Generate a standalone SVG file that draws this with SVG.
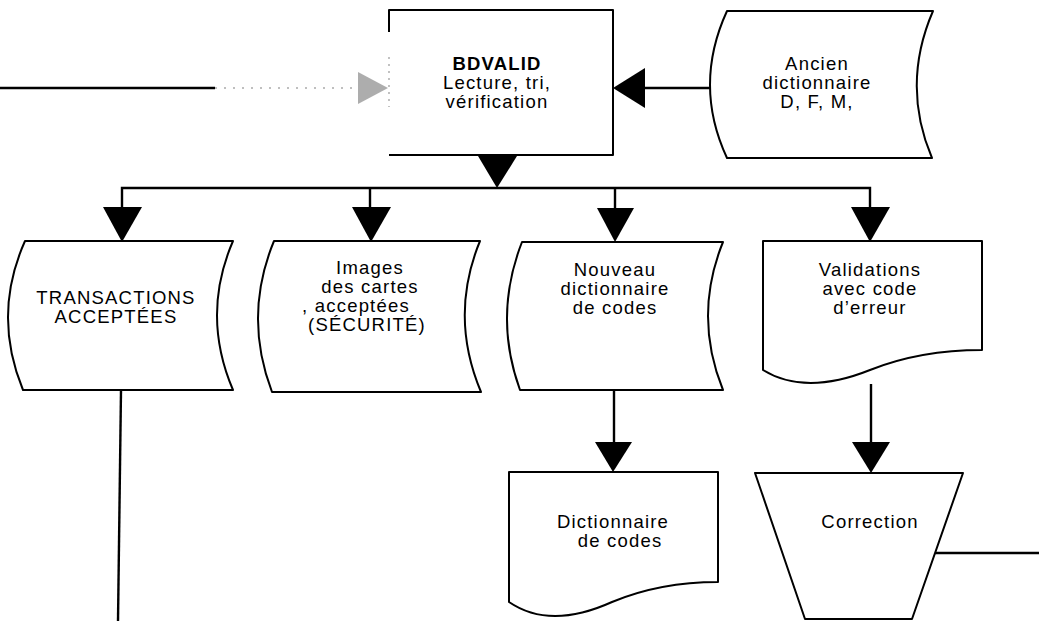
<svg xmlns="http://www.w3.org/2000/svg" width="1039" height="621" viewBox="0 0 1039 621">
<style>
.s{fill:#fff;stroke:#000;stroke-width:2;stroke-linejoin:round}
.c{fill:none;stroke:#000;stroke-width:2.4}
.h{fill:#000;stroke:none}
.t{font-family:"Liberation Sans",Arial,sans-serif;font-size:18.5px;letter-spacing:1.2px;fill:#000;text-anchor:middle}
.b{font-weight:bold}
</style>
<rect width="1039" height="621" fill="#fff"/>
<g id="connectors">
<line class="c" x1="0" y1="88" x2="215" y2="88"/>
<line x1="215" y1="88" x2="352" y2="88" stroke="#aaa" stroke-width="1.5" stroke-dasharray="2 7"/>
<polygon points="358,72 358,104 388,88" fill="#999" opacity="0.8"/>
<line class="c" x1="710" y1="88" x2="643" y2="88" stroke-width="3"/>
<polygon class="h" points="645,68 645,108 613,88"/>
<polygon class="h" points="478,156 517,156 497,188"/>
<polyline class="c" points="122,208 122,188 870,188 870,208"/>
<line class="c" x1="370" y1="188" x2="370" y2="208"/>
<line class="c" x1="615" y1="188" x2="615" y2="210"/>
<polygon class="h" points="103,207 142,207 122,242"/>
<polygon class="h" points="352,207 391,207 371,242"/>
<polygon class="h" points="597,208 634,208 615,242"/>
<polygon class="h" points="851,207 890,207 870,242"/>
<line class="c" x1="121" y1="390" x2="118" y2="621"/>
<line class="c" x1="614" y1="390" x2="614" y2="444"/>
<polygon class="h" points="595,442 632,442 613,472"/>
<line class="c" x1="871" y1="384" x2="871" y2="444"/>
<polygon class="h" points="852,442 890,442 871,473"/>
<line class="c" x1="935" y1="553" x2="1039" y2="553"/>
</g>
<g id="bdvalid">
<path class="s" d="M389,155 L613,155 L613,10 L389,10 L389,32" fill="#fff"/>
<line x1="389" y1="57" x2="389" y2="107" stroke="#999" stroke-width="1.2" stroke-dasharray="2 5"/>
<text class="t b" x="497" y="70">BDVALID</text>
<text class="t" x="497" y="89">Lecture, tri,</text>
<text class="t" x="497" y="108">vérification</text>
</g>
<g id="ancien">
<path class="s" d="M727,11 L933,11 Q901,85 932,158 L727,158 Q693,85 727,11 Z"/>
<text class="t" x="817" y="70">Ancien</text>
<text class="t" x="817" y="89">dictionnaire</text>
<text class="t" x="817" y="108">D, F, M,</text>
</g>
<g id="transactions">
<path class="s" d="M25,241 L233,241 Q201,315 233,390 L23,390 Q-8,315 25,241 Z"/>
<text class="t" x="116" y="304">TRANSACTIONS</text>
<text class="t" x="116" y="323">ACCEPTÉES</text>
</g>
<g id="images">
<path class="s" d="M274,241 L480,241 Q449,316 481,392 L272,392 Q243,316 274,241 Z"/>
<text class="t" x="370" y="274">Images</text>
<text class="t" x="370" y="293">des cartes</text>
<text class="t" x="356" y="312">, acceptées</text>
<text class="t" x="367" y="331">(SÉCURITÉ)</text>
</g>
<g id="nouveau">
<path class="s" d="M522,242 L723,242 Q693,316 723,390 L520,390 Q493,316 522,242 Z"/>
<text class="t" x="615" y="276">Nouveau</text>
<text class="t" x="615" y="295">dictionnaire</text>
<text class="t" x="615" y="314">de codes</text>
</g>
<g id="validations">
<path class="s" d="M763,241 L982,241 L982,350 Q920,350 870,370 Q805,396 763,370 Z"/>
<text class="t" x="870" y="276">Validations</text>
<text class="t" x="870" y="295">avec code</text>
<text class="t" x="870" y="314">d’erreur</text>
</g>
<g id="dictionnaire">
<path class="s" d="M509,472 L718,472 L718,582 Q660,582 612,602 Q550,630 509,602 Z"/>
<text class="t" x="613" y="528">Dictionnaire</text>
<text class="t" x="620" y="547">de codes</text>
</g>
<g id="correction">
<path class="s" d="M755,473 L963,473 L912,619 L805,619 Z"/>
<text class="t" x="870" y="528">Correction</text>
</g>
</svg>
